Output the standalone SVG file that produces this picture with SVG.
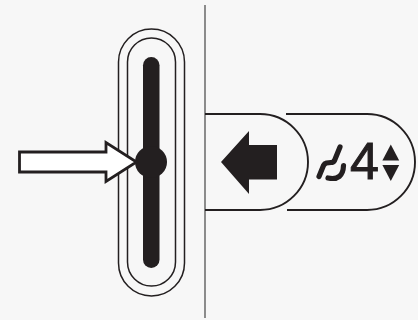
<svg xmlns="http://www.w3.org/2000/svg" width="418" height="320" viewBox="0 0 418 320">
<style>
.ln{fill:none;stroke:#231f20;stroke-width:1.5}
.btn{fill:none;stroke:#231f20;stroke-width:1.9}
.dk{fill:#231f20}
.seat{fill:none;stroke:#231f20;stroke-width:5.2;stroke-linecap:round;stroke-linejoin:round}
</style>
<rect width="418" height="320" fill="#f7f7f7"/>
<g id="divider"><path d="M205 5V318" fill="none" stroke="#707070" stroke-width="1.6"/></g>
<g id="slider">
<rect class="ln" x="118.5" y="29" width="66" height="267" rx="33" ry="33"/>
<rect class="ln" x="127.5" y="38" width="48" height="248" rx="24" ry="24"/>
<rect class="dk" x="143" y="57" width="16.5" height="211" rx="8.25" ry="8.25"/>
<circle class="dk" cx="151" cy="162" r="16"/>
</g>
<g id="pointer">
<path d="M19.500 152H106V142.500L136.500 162L106 181.500V172H19.500Z" fill="#fff" stroke="#231f20" stroke-width="2.800" stroke-linejoin="miter"/>
</g>
<g id="back-button">
<path class="btn" d="M205 114H260A48 48 0 0 1 260 210H205"/>
<path class="dk" d="M221 162L249 131V145H277V179.500H249V194Z"/>
</g>
<g id="seat-button">
<path class="btn" d="M286 114H367A48 48 0 0 1 367 210H287"/>
<path class="seat" d="M340 147L334.500 160.500Q333.500 162.500 331 162.500L326.500 163Q324.500 163.500 323.500 165.500L319 176.500"/>
<path class="seat" d="M328 178Q343 181 343.500 165.500"/>
<text x="350" y="179" font-family="'Liberation Sans',Arial,sans-serif" font-size="52" fill="#231f20" stroke="#231f20" stroke-width="1">4</text>
<path class="dk" d="M390.800 144.500L399.200 160.500H382.400Z"/>
<path class="dk" d="M390.800 181L399.200 165H382.400Z"/>
</g>
</svg>
